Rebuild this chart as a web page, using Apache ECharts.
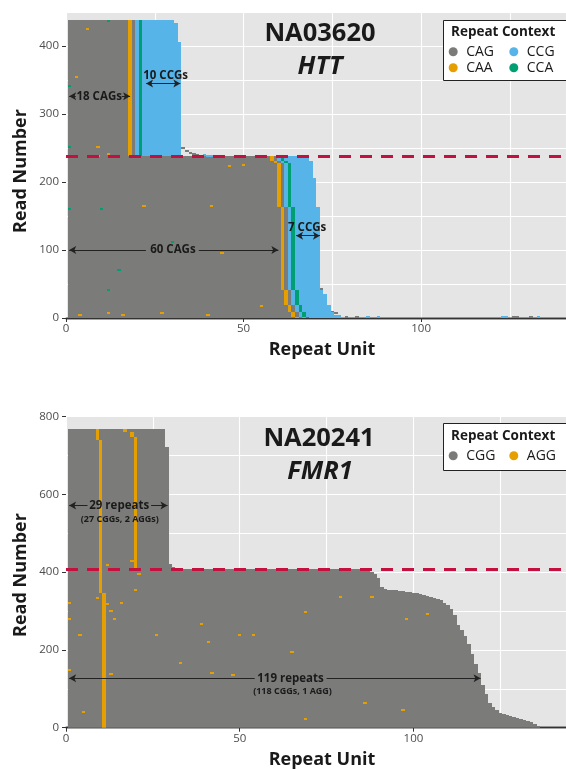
<!DOCTYPE html>
<html><head><meta charset="utf-8">
<script src="https://cdn.jsdelivr.net/npm/echarts@6/dist/echarts.min.js"></script>
<style>html,body{margin:0;padding:0;background:#fff}#c{width:566px;height:769px}</style>
</head><body><div id="c"></div>
<script>
// ================= DATA =================
// ---- HTT (NA03620) ----
const httMotifs = ['CAG', 'CAA', 'CCG', 'CCA'];
// read groups: [firstRead, lastRead, CAGs before CAA, CCGs after CCA]
// each read: (CAG)n CAA CAG CCG CCA (CCG)m
const httReadGroups = [
  [1, 1, 64, 10],
  [2, 4, 63, 10],
  [5, 8, 63, 8],
  [9, 18, 62, 8],
  [19, 35, 61, 8],
  [36, 40, 61, 7],
  [41, 163, 60, 7],
  [164, 206, 59, 7],
  [207, 227, 59, 6],
  [228, 231, 58, 7],
  [232, 238, 57, 7],
  [239, 405, 17, 11],
  [406, 433, 17, 10],
  [434, 438, 17, 9]
];
// isolated calls: [repeat unit, read, motif]
const httStrayCalls = [
  [3, 354, 'CAA'], [6, 426, 'CAA'], [9, 252, 'CAA'], [12, 241, 'CAA'], [9, 238, 'CAA'],
  [22, 165, 'CAA'], [41, 165, 'CAA'], [10, 161, 'CCA'], [46, 224, 'CAA'], [50, 226, 'CAA'],
  [15, 71, 'CCA'], [12, 41, 'CCA'], [55, 18, 'CAA'], [27, 8, 'CAA'], [12, 8, 'CAA'],
  [4, 4, 'CAA'], [16, 4, 'CAA'], [40, 4, 'CAA'], [12, 437, 'CCA'], [1, 342, 'CCA'],
  [1, 252, 'CCA'], [1, 160, 'CCA'], [30, 112, 'CCA'], [44, 96, 'CAA'],
  [33, 251, 'CAG'], [34, 246, 'CAG'], [35, 243, 'CAG'], [36, 241, 'CAG'], [37, 240, 'CAG'],
  [39, 240, 'CCG'], [40, 239, 'CCG'], [41, 239, 'CCG'], [43, 239, 'CCG'],
  [72, 43, 'CAG'], [75, 9, 'CAG'], [76, 7, 'CAG'], [79, 2, 'CAG'], [82, 2, 'CAG'],
  [85, 2, 'CCG'], [88, 2, 'CCG'], [123, 2, 'CCG'], [124, 2, 'CCG'], [126, 2, 'CAG'],
  [127, 2, 'CAG'], [131, 2, 'CAG'], [133, 2, 'CCG']
];
const httAlleleSplit = 238.5;
const httXTicks = [0, 50, 100];
const httYTicks = [0, 100, 200, 300, 400];

// ---- FMR1 (NA20241) ----
const fmrMotifs = ['CGG', 'AGG'];
// long allele lengths: [firstRead, lastRead, repeat length]
const fmrLongLengths = [
  [1, 5, 136], [6, 9, 135], [10, 13, 134], [14, 16, 133], [17, 19, 132], [20, 22, 131],
  [23, 24, 130], [25, 26, 129], [27, 28, 128], [29, 30, 127], [31, 33, 126], [34, 38, 125],
  [39, 44, 124], [45, 52, 123], [53, 64, 122], [65, 85, 121], [86, 109, 120], [110, 139, 119],
  [140, 164, 118], [165, 189, 117], [190, 214, 116], [215, 235, 115], [236, 251, 114],
  [252, 264, 113], [265, 289, 112], [290, 305, 111], [306, 315, 110], [316, 321, 109],
  [322, 327, 108], [328, 330, 107], [331, 333, 106], [334, 336, 105], [337, 338, 104],
  [339, 340, 103], [341, 342, 102], [343, 344, 101], [345, 346, 100], [347, 347, 99],
  [348, 348, 98], [349, 349, 97], [350, 350, 96], [351, 351, 95], [352, 352, 94],
  [353, 353, 93], [354, 355, 92], [356, 362, 91], [363, 385, 90], [386, 395, 89],
  [396, 400, 88], [401, 408, 87]
];
// long allele AGG interruption: [firstRead, lastRead, repeat unit]
const fmrLongAgg = [[1, 347, 11], [348, 408, 10]];
// short allele: [firstRead, lastRead, AGG unit 1, AGG unit 2, repeat length]
const fmrShortGroups = [
  [409, 412, 10, 20, 31],
  [413, 420, 10, 20, 30],
  [421, 721, 10, 20, 29],
  [722, 739, 10, 20, 28],
  [740, 747, 9, 20, 28],
  [748, 759, 9, 19, 28],
  [760, 767, 9, 17, 28]
];
// isolated AGG calls: [repeat unit, read]
const fmrStrayCalls = [
  [1, 320], [1, 281], [4, 238], [5, 41], [1, 150], [16, 320], [14, 281], [20, 354],
  [26, 238], [33, 166], [39, 268], [41, 221], [42, 140], [48, 135], [50, 238], [54, 238],
  [13, 138], [79, 337], [88, 337], [69, 298], [98, 279], [104, 292], [65, 195], [86, 63],
  [97, 45], [69, 24], [9, 333], [12, 318], [13, 300], [21, 395], [12, 420], [19, 430]
];
const fmrAlleleSplit = 408.5;
const fmrXTicks = [0, 50, 100];
const fmrYTicks = [0, 200, 400, 600, 800];

// ================= BUILD =================
const FONT = '"Open Sans", "Noto Sans", sans-serif';
const COLORS = { CAG: '#7b7b7a', CAA: '#E69F00', CCG: '#56B4E9', CCA: '#009E73', CGG: '#7b7b7a', AGG: '#E69F00' };

function httRuns() {
  const out = { CAG: [], CAA: [], CCG: [], CCA: [] };
  httReadGroups.forEach(([r0, r1, n, m]) => {
    out.CAG.push([1, n, r0, r1]);
    out.CAA.push([n + 1, n + 1, r0, r1]);
    out.CAG.push([n + 2, n + 2, r0, r1]);
    out.CCG.push([n + 3, n + 3, r0, r1]);
    out.CCA.push([n + 4, n + 4, r0, r1]);
    out.CCG.push([n + 5, n + 4 + m, r0, r1]);
  });
  httStrayCalls.forEach(([p, r, mo]) => out[mo].push([p, p, r, r]));
  return out;
}
function fmrRuns() {
  const out = { CGG: [], AGG: [] };
  fmrLongLengths.forEach(([r0, r1, L]) => out.CGG.push([1, L, r0, r1]));
  fmrLongAgg.forEach(([r0, r1, p]) => out.AGG.push([p, p, r0, r1]));
  fmrShortGroups.forEach(([r0, r1, a1, a2, L]) => {
    out.CGG.push([1, L, r0, r1]);
    out.AGG.push([a1, a1, r0, r1], [a2, a2, r0, r1]);
  });
  fmrStrayCalls.forEach(([p, r]) => out.AGG.push([p, p, r, r]));
  return out;
}

function renderCell(params, api) {
  const a = api.coord([api.value(0) - 0.5, api.value(3) + 0.5]);
  const b = api.coord([api.value(1) + 0.5, api.value(2) - 0.5]);
  let x0 = Math.round(a[0]), x1 = Math.round(b[0]);
  let y0 = Math.round(a[1]), y1 = Math.round(b[1]);
  if (y1 - y0 < 2) {
    const mid = (a[1] + b[1]) / 2;
    y0 = Math.round(mid - 0.8); y1 = y0 + 2;
  }
  if (x1 - x0 < 3) x1 = x0 + 3;
  const cs = params.coordSys;
  const shape = echarts.graphic.clipRectByRect(
    { x: x0, y: y0, width: x1 - x0, height: y1 - y0 },
    { x: cs.x, y: cs.y, width: cs.width, height: cs.height });
  if (!shape) return;
  const c = api.visual('color');
  return { type: 'rect', shape: shape, style: { fill: c } };
}

const httData = httRuns();
const fmrData = fmrRuns();

const series = [];
httMotifs.forEach(m => series.push({
  type: 'custom', name: m, xAxisIndex: 0, yAxisIndex: 0, renderItem: renderCell,
  data: httData[m], encode: { x: [0, 1], y: [2, 3] }, itemStyle: { color: COLORS[m] },
  silent: true, animation: false
}));
fmrMotifs.forEach(m => series.push({
  type: 'custom', name: m, xAxisIndex: 2, yAxisIndex: 2, renderItem: renderCell,
  data: fmrData[m], encode: { x: [0, 1], y: [2, 3] }, itemStyle: { color: COLORS[m] },
  silent: true, animation: false
}));

const arrowLine = { color: '#222', width: 1, type: 'solid' };
function seg(x0, x1, y, s0, s1) {
  return [{ coord: [x0, y], symbol: s0 }, { coord: [x1, y], symbol: s1 }];
}
function note(x, y, text, size) {
  return { coord: [x, y], name: text, label: { fontSize: size || 11.5 } };
}

function annotationSeries(xi, yi, split, lines, notes) {
  return {
    type: 'line', name: 'ann' + xi, xAxisIndex: xi, yAxisIndex: yi, data: [], silent: true,
    markLine: {
      silent: true, animation: false, symbol: ['none', 'none'], symbolSize: [6, 7],
      label: { show: false }, lineStyle: arrowLine,
      data: [
        [{ coord: [0, split], symbol: 'none', lineStyle: { color: '#C4103F', width: 3, type: [12, 9] } },
         { coord: [xi === 0 ? 140.8 : 143.9, split], symbol: 'none' }]
      ].concat(lines)
    },
    markPoint: {
      silent: true, animation: false, symbol: 'rect', symbolSize: [1, 1],
      itemStyle: { color: 'rgba(0,0,0,0)' },
      label: { show: true, position: 'inside', formatter: '{b}', color: '#1a1a1a',
        fontWeight: 'bold', fontFamily: FONT, fontSize: 11.5 },
      data: notes
    }
  };
}
series.push(annotationSeries(0, 0, httAlleleSplit, [
  seg(0.9, 2.75, 326, 'arrow', 'none'), seg(15.7, 18.05, 326, 'none', 'arrow'),
  seg(0.9, 22.5, 100, 'arrow', 'none'), seg(37.4, 59.8, 100, 'none', 'arrow'),
  seg(22.55, 32.2, 345, 'arrow', 'arrow'),
  seg(64.8, 71.5, 121, 'arrow', 'arrow')
], [
  note(9.35, 326, '18 CAGs'), note(30.1, 100, '60 CAGs'),
  note(28.05, 356, '10 CCGs'), note(67.9, 133.4, '7 CCGs')
]));
series.push(annotationSeries(2, 2, fmrAlleleSplit, [
  seg(0.9, 6.2, 571, 'arrow', 'none'), seg(24.5, 29.2, 571, 'none', 'arrow'),
  seg(0.9, 54.3, 127, 'arrow', 'none'), seg(75, 119.3, 127, 'none', 'arrow')
], [
  note(15.3, 571, '29 repeats'), note(15.5, 536.6, '(27 CGGs, 2 AGGs)', 9),
  note(64.6, 127, '119 repeats'), note(65.2, 92.6, '(118 CGGs, 1 AGG)', 9)
]));

function mainX(gi, max, ticks) {
  return {
    type: 'value', gridIndex: gi, min: 0, max: max, interval: 50, position: 'bottom',
    axisLine: { show: true, lineStyle: { color: '#333', width: 1.3 } },
    axisTick: { show: true, length: 4, lineStyle: { color: '#333' }, customValues: ticks },
    axisLabel: { show: true, customValues: ticks, color: '#4d4d4d', fontSize: 11.5, fontFamily: FONT, margin: 5,
      formatter: v => ticks.includes(v) ? String(v) : '' },
    splitLine: { show: false }
  };
}
function gridX(gi, max) {
  return {
    type: 'value', gridIndex: gi, min: 0, max: max, interval: 25, position: 'top',
    axisLine: { show: true, lineStyle: { color: '#333', width: 1.3 } },
    axisTick: { show: false }, axisLabel: { show: false },
    splitLine: { show: true, lineStyle: { color: '#fff', width: 1.1 } }
  };
}
function mainY(gi, max, ticks, interval) {
  return {
    type: 'value', gridIndex: gi, min: 0, max: max, interval: interval, position: 'left',
    axisLine: { show: false },
    axisTick: { show: true, length: 4, lineStyle: { color: '#333' }, customValues: ticks },
    axisLabel: { show: true, customValues: ticks, color: '#4d4d4d', fontSize: 11.5, fontFamily: FONT, margin: 7,
      formatter: v => ticks.includes(v) ? String(v) : '' },
    splitLine: { show: false }
  };
}
function gridY(gi, max, interval) {
  return {
    type: 'value', gridIndex: gi, min: 0, max: max, interval: interval, position: 'left',
    axisLine: { show: false }, axisTick: { show: false }, axisLabel: { show: false },
    splitLine: { show: true, lineStyle: { color: '#fff', width: 1.1 } }
  };
}

function legendCol(left, top, names) {
  return {
    orient: 'vertical', left: left, top: top, padding: 0, itemGap: 0, itemWidth: 16, itemHeight: 9,
    icon: 'circle', symbolKeepAspect: true, z: 20, selectedMode: false, data: names,
    textStyle: { fontFamily: FONT, fontSize: 14, color: '#1a1a1a', lineHeight: 16, padding: [0, 0, 0, 0] }
  };
}

function txt(x, y, text, font, extra) {
  return Object.assign({ type: 'text', z: 30, x: x, y: y,
    style: { text: text, font: font, fill: '#1a1a1a', align: 'center', verticalAlign: 'middle' } }, extra || {});
}

const option = {
  animation: false,
  backgroundColor: '#ffffff',
  grid: [
    { left: 66, top: 12, width: 512, height: 306, show: true, backgroundColor: '#E5E5E5', borderWidth: 0 },
    { left: 66, top: 415, width: 512, height: 312.7, show: true, backgroundColor: '#E5E5E5', borderWidth: 0 }
  ],
  xAxis: [mainX(0, 140.8, httXTicks), gridX(0, 140.8), mainX(1, 143.9, fmrXTicks), gridX(1, 143.9)],
  yAxis: [mainY(0, 450, httYTicks, 100), gridY(0, 450, 50), mainY(1, 804, fmrYTicks, 200), gridY(1, 804, 100)],
  legend: [
    legendCol(448.7, 43.7, ['CAG', 'CAA']),
    legendCol(509.3, 43.7, ['CCG', 'CCA']),
    legendCol(448.7, 447.7, ['CGG']),
    legendCol(509.3, 447.7, ['AGG'])
  ],
  graphic: [
    { type: 'rect', z: 10, shape: { x: 443.5, y: 20.5, width: 200, height: 60 },
      style: { fill: '#fff', stroke: '#222', lineWidth: 1 } },
    { type: 'rect', z: 10, shape: { x: 443.5, y: 423.5, width: 200, height: 47 },
      style: { fill: '#fff', stroke: '#222', lineWidth: 1 } },
    { type: 'text', z: 30, x: 451, y: 32.5,
      style: { text: 'Repeat Context', font: 'bold 13.5px ' + FONT, fill: '#1a1a1a', align: 'left', verticalAlign: 'middle' } },
    { type: 'text', z: 30, x: 451, y: 436,
      style: { text: 'Repeat Context', font: 'bold 13.5px ' + FONT, fill: '#1a1a1a', align: 'left', verticalAlign: 'middle' } },
    txt(320, 33.3, 'NA03620', 'bold 25.5px ' + FONT),
    txt(320, 66.7, 'HTT', 'italic bold 25.5px ' + FONT),
    txt(319, 438.3, 'NA20241', 'bold 25.5px ' + FONT),
    txt(320, 471.7, 'FMR1', 'italic bold 25.5px ' + FONT),
    txt(322, 350, 'Repeat Unit', 'bold 18px ' + FONT),
    txt(322, 760, 'Repeat Unit', 'bold 18px ' + FONT),
    txt(21, 171, 'Read Number', 'bold 18px ' + FONT, { rotation: Math.PI / 2 }),
    txt(21, 575, 'Read Number', 'bold 18px ' + FONT, { rotation: Math.PI / 2 })
  ],
  series: series
};

const chart = echarts.init(document.getElementById('c'), null, { renderer: 'canvas' });
chart.setOption(option);
</script>
</body></html>
